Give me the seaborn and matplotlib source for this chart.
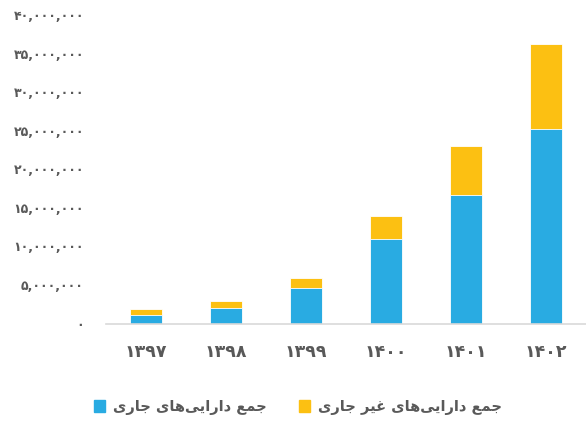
import pandas as pd
import numpy as np
import matplotlib
matplotlib.use("Agg")
import matplotlib.pyplot as plt
import seaborn as sns
from matplotlib.patches import Patch

# Data (values in rial)
years = ["1397", "1398", "1399", "1400", "1401", "1402"]
current_assets = [1100000, 2050000, 4650000, 10900000, 16700000, 25200000]
noncurrent_assets = [800000, 850000, 1250000, 3000000, 6350000, 11000000]
yticks = [0, 5000000, 10000000, 15000000, 20000000, 25000000, 30000000, 35000000, 40000000]

label_current = "جمع دارایی‌های جاری"
label_noncurrent = "جمع دارایی‌های غیر جاری"

BLUE = "#29ABE2"
YELLOW = "#FCC012"
GREY = "#595959"

fa_digits = str.maketrans("0123456789", "۰۱۲۳۴۵۶۷۸۹")

# simple arabic shaping (no reshaper lib available)
forms = {
    "ا": ("\uFE8D", "\uFE8E", None, None),
    "د": ("\uFEA9", "\uFEAA", None, None),
    "ر": ("\uFEAD", "\uFEAE", None, None),
    "ج": ("\uFE9D", "\uFE9E", "\uFE9F", "\uFEA0"),
    "م": ("\uFEE1", "\uFEE2", "\uFEE3", "\uFEE4"),
    "ع": ("\uFEC9", "\uFECA", "\uFECB", "\uFECC"),
    "غ": ("\uFECD", "\uFECE", "\uFECF", "\uFED0"),
    "ه": ("\uFEE9", "\uFEEA", "\uFEEB", "\uFEEC"),
    "ی": ("\uFBFC", "\uFBFD", "\uFBFE", "\uFBFF"),
}


def shape(text):
    out = []
    for i, ch in enumerate(text):
        if ch not in forms:
            if ch != "\u200c":
                out.append(ch)
            continue
        prev = text[i - 1] if i > 0 else ""
        nxt = text[i + 1] if i + 1 < len(text) else ""
        join_prev = prev in forms and forms[prev][2] is not None
        join_next = forms[ch][2] is not None and nxt in forms
        iso, fin, ini, med = forms[ch]
        if join_prev and join_next:
            out.append(med)
        elif join_prev:
            out.append(fin)
        elif join_next:
            out.append(ini)
        else:
            out.append(iso)
    return "".join(out)[::-1]


df = pd.DataFrame({
    "year": [y.translate(fa_digits) for y in years],
    "current": current_assets,
    "noncurrent": noncurrent_assets,
})
df["total"] = df["current"] + df["noncurrent"]

sns.set_style("white")
plt.rcParams["font.family"] = ["DejaVu Sans"]

fig = plt.figure(figsize=(5.86, 4.24), dpi=100)
ax = fig.add_axes([0.181, 0.237, 0.819, 0.7276])

sns.barplot(data=df, x="year", y="total", color=YELLOW, width=0.4,
            edgecolor="white", linewidth=0.6, saturation=1, ax=ax)
sns.barplot(data=df, x="year", y="current", color=BLUE, width=0.4,
            edgecolor="white", linewidth=0.6, saturation=1, ax=ax)

ax.set_ylim(0, 40000000)
ax.set_xlim(-0.5, 5.5)
ax.set_yticks(yticks)
ax.set_yticklabels([f"{v:,}".translate(fa_digits) for v in yticks],
                   fontsize=9, fontweight="bold", color=GREY)
ax.tick_params(axis="x", labelsize=12.5, labelcolor=GREY, length=0, pad=14)
ax.tick_params(axis="y", length=0, pad=16)
for t in ax.get_xticklabels():
    t.set_fontweight("bold")
ax.set_xlabel("")
ax.set_ylabel("")

for s in ["top", "right", "left"]:
    ax.spines[s].set_visible(False)
ax.spines["bottom"].set_color("#D9D9D9")
ax.spines["bottom"].set_linewidth(1.2)

handles = [Patch(color=BLUE, label=shape(label_current)),
           Patch(color=YELLOW, label=shape(label_noncurrent))]
fig.legend(handles=handles, loc="center", bbox_to_anchor=(0.508, 0.04), ncol=2,
           frameon=False, handlelength=0.8, handleheight=0.8, columnspacing=2.2,
           handletextpad=0.5, prop={"size": 10.5, "weight": "bold"},
           labelcolor=GREY)

fig.savefig("out.png", dpi=100)
